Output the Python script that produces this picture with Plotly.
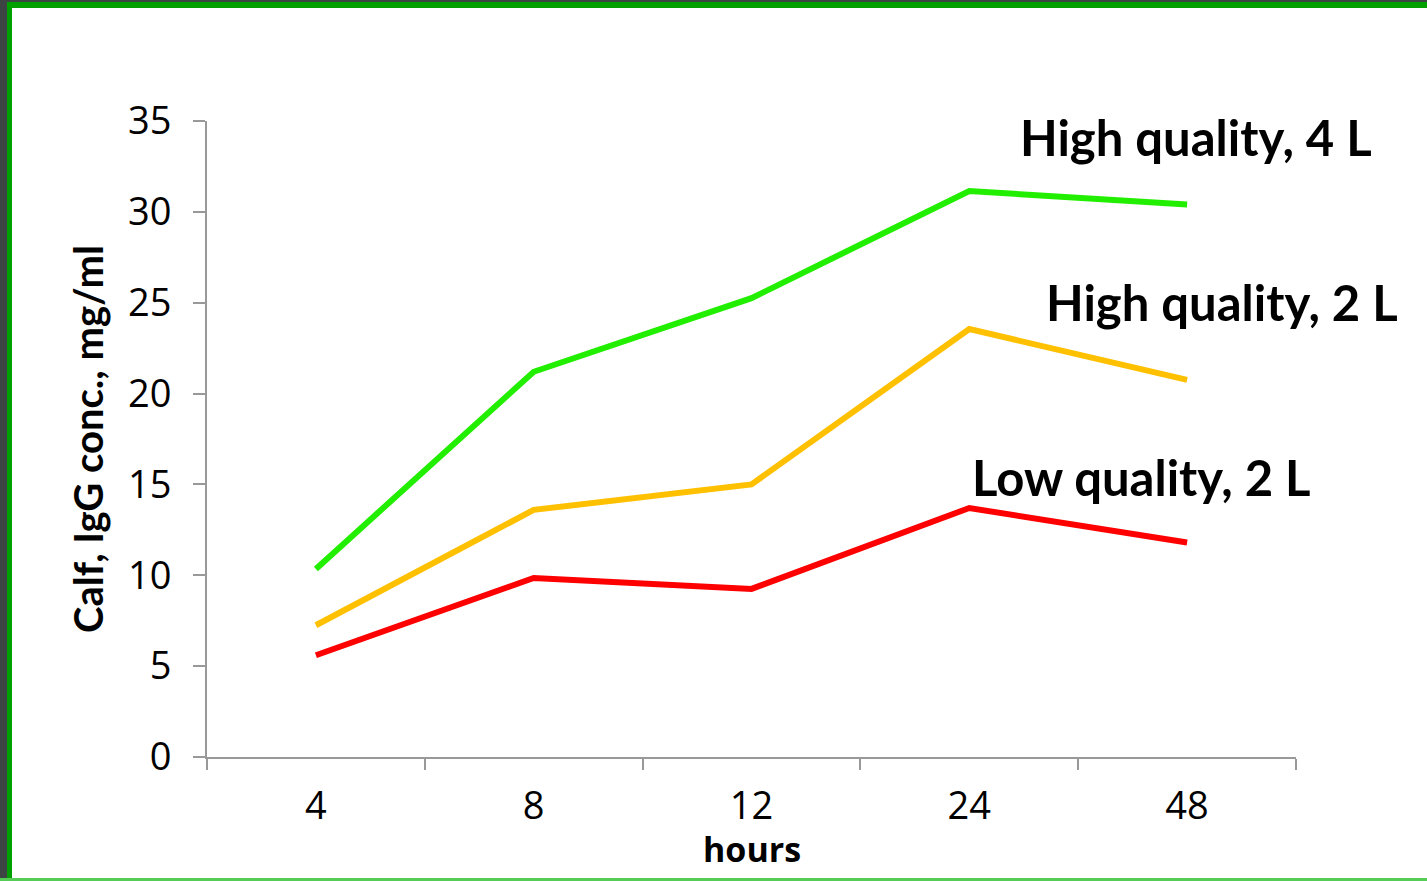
import plotly.graph_objects as go

hours = ["4", "8", "12", "24", "48"]
high_4l = [10.35, 21.2, 25.25, 31.15, 30.4]
high_2l = [7.25, 13.6, 15.0, 23.55, 20.75]
low_2l = [5.6, 9.85, 9.25, 13.7, 11.8]
labels = ["High quality, 4 L", "High quality, 2 L", "Low quality, 2 L"]
colors = ["#22EE00", "#FFC000", "#FF0000"]
y_ticks = [0, 5, 10, 15, 20, 25, 30, 35]

W, H = 1427, 881
L, R, T, B = 207, 131, 121, 124
pw, ph = W - L - R, H - T - B

def px_x(p):
    return (p - L) / pw

def px_y(p):
    return (H - B - p) / ph

fig = go.Figure()
for vals, name, col in zip([high_4l, high_2l, low_2l], labels, colors):
    fig.add_trace(go.Scatter(x=hours, y=vals, mode="lines", name=name,
                             line=dict(color=col, width=6), showlegend=False))

label_pos = [(1196, 137), (1222, 302), (1141, 477)]
for text, (cx, cy) in zip(labels, label_pos):
    fig.add_annotation(x=px_x(cx), y=px_y(cy), xref="paper", yref="paper",
                       text=text, showarrow=False,
                       font=dict(family="Lato", size=49, color="black", weight="bold"),
                       xanchor="center", yanchor="middle")

# x-axis title
fig.add_annotation(x=0.5, y=px_y(849), xref="paper", yref="paper", text="hours",
                   showarrow=False, xanchor="center", yanchor="middle",
                   font=dict(size=34, family="Open Sans", weight="bold", color="black"))

# frame borders
shapes = [
    dict(type="rect", xref="paper", yref="paper", x0=px_x(0), x1=px_x(7), y0=px_y(881), y1=px_y(0),
         fillcolor="#3c4444", line=dict(width=0)),
    dict(type="rect", xref="paper", yref="paper", x0=px_x(7), x1=px_x(12), y0=px_y(881), y1=px_y(2),
         fillcolor="#00A000", line=dict(width=0)),
    dict(type="rect", xref="paper", yref="paper", x0=px_x(0), x1=px_x(1427), y0=px_y(2), y1=px_y(0),
         fillcolor="#3c4444", line=dict(width=0)),
    dict(type="rect", xref="paper", yref="paper", x0=px_x(7), x1=px_x(1427), y0=px_y(8), y1=px_y(2),
         fillcolor="#00A000", line=dict(width=0)),
    dict(type="rect", xref="paper", yref="paper", x0=px_x(0), x1=px_x(1427), y0=px_y(881), y1=px_y(878),
         fillcolor="#55CC55", line=dict(width=0)),
]
fig.update_layout(shapes=shapes)

fig.update_layout(
    width=W, height=H,
    margin=dict(l=L, r=R, t=T, b=B, autoexpand=False),
    paper_bgcolor="white", plot_bgcolor="white",
    font=dict(family="Open Sans", color="black"),
    xaxis=dict(type="category", range=[-0.5, 4.5], tickson="boundaries",
               ticks="outside", ticklen=11, tickwidth=2, tickcolor="#999999",
               showline=True, linecolor="#999999", linewidth=2, showgrid=False,
               tickfont=dict(size=38, family="Open Sans"), ticklabelstandoff=14,
               zeroline=False),
    yaxis=dict(range=[0, 35], tickvals=y_ticks, ticks="outside", ticklen=12, tickwidth=2,
               tickcolor="#999999", showline=True, linecolor="#999999", linewidth=2,
               showgrid=False, zeroline=False,
               tickfont=dict(size=38, family="Open Sans"), ticklabelstandoff=14,
               title=dict(text="Calf, IgG conc., mg/ml", font=dict(size=40, family="Lato", weight="bold"), standoff=12)),
)

fig.write_html("out.html", config={"displayModeBar": False},
               post_script="document.body.style.margin='0';document.body.style.overflow='hidden';")
